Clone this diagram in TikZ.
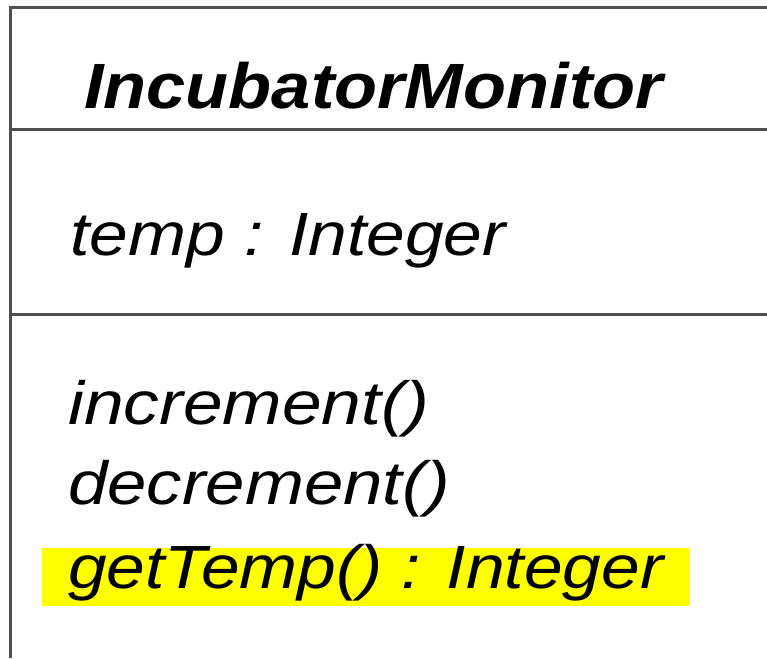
\documentclass[tikz,border=0pt]{standalone}
\usepackage{fontspec}
\setmainfont{Liberation Sans}
\definecolor{boxline}{HTML}{4E4E4E}
\definecolor{hl}{HTML}{FFFF00}
\tikzset{
  border/.style={draw=boxline, line width=3pt},
  member/.style={anchor=base west, inner sep=0pt, font=\fontsize{61}{72}\selectfont\itshape},
  title/.style={anchor=base west, inner sep=0pt, font=\fontsize{64}{76}\selectfont\bfseries\itshape},
}
\begin{document}
\begin{tikzpicture}[x=1pt,y=-1pt]
\useasboundingbox (0,0) rectangle (767,658);
\fill[white] (0,0) rectangle (767,658);
% highlight
\fill[hl] (42,548) rectangle (690,606);
% frame
\coordinate (tl) at (10,8);
\coordinate (tr) at (767,8);
\coordinate (bl) at (10,658);
\draw[border] (tr) -- (tl) -- (bl);
\coordinate (d1l) at (10,129);
\coordinate (d1r) at (767,129);
\coordinate (d2l) at (10,314);
\coordinate (d2r) at (767,314);
\draw[border] (d1l) -- (d1r);
\draw[border] (d2l) -- (d2r);
% texts
\node[title] (name) at (84,108) {\scalebox{1.10}[1]{IncubatorMonitor}};
\node[member] (attr) at (70,255) {\scalebox{1.14}[1]{temp : Integer}};
\node[member] (op1) at (68,424) {\scalebox{1.17}[1]{increment()}};
\node[member] (op2) at (68,504) {\scalebox{1.16}[1]{decrement()}};
\node[member] (op3) at (68,588) {\scalebox{1.14}[1]{getTemp() : Integer}};
\end{tikzpicture}
\end{document}
